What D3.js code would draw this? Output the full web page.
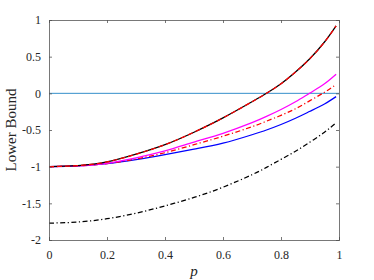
<!DOCTYPE html>
<html>
<head>
<meta charset="utf-8">
<script src="https://cdn.jsdelivr.net/npm/d3@7"></script>
<style>
  body { margin: 0; background: #fff; }
  text { font-family: "Liberation Serif", "Times New Roman", Times, serif !important; }
</style>
</head>
<body>
<div id="chart"></div>
<script>
var pVals        = [0, 0.1, 0.2, 0.3, 0.4, 0.5, 0.6, 0.7, 0.75, 0.8, 0.85, 0.9, 0.95, 0.99];
var blackSolid   = [-1, -0.985, -0.935, -0.83, -0.70, -0.53, -0.335, -0.115, 0, 0.13, 0.29, 0.475, 0.70, 0.92];
var magenta      = [-1, -0.99, -0.955, -0.88, -0.785, -0.665, -0.545, -0.40, -0.315, -0.22, -0.115, 0.005, 0.13, 0.26];
var redDashDot   = [-1, -0.99, -0.957, -0.895, -0.81, -0.70, -0.585, -0.455, -0.38, -0.30, -0.21, -0.10, 0.015, 0.12];
var blue         = [-1, -0.99, -0.96, -0.905, -0.835, -0.76, -0.68, -0.565, -0.50, -0.425, -0.34, -0.245, -0.145, -0.045];
var blackDashDot = [-1.77, -1.755, -1.71, -1.635, -1.535, -1.42, -1.28, -1.11, -1.01, -0.90, -0.79, -0.665, -0.53, -0.40];

var xTicks = [0, 0.2, 0.4, 0.6, 0.8, 1];
var yTicks = [-2, -1.5, -1, -0.5, 0, 0.5, 1];

var serif = "Liberation Serif";
var margin = { top: 20, right: 35, bottom: 40, left: 49 };
var W = 374, H = 280;
var width = W - margin.left - margin.right;
var height = H - margin.top - margin.bottom;

var svg = d3.select("#chart")
  .append("svg")
  .attr("width", W)
  .attr("height", H)
  .append("g")
  .attr("transform", "translate(" + margin.left + "," + margin.top + ")");

var x = d3.scaleLinear().domain([0, 1]).range([0, width]);
var y = d3.scaleLinear().domain([-2, 1]).range([height, 0]);

var line = d3.line()
  .x(d => x(d[0]))
  .y(d => y(d[1]))
  .curve(d3.curveNatural);

function pts(arr) { return pVals.map((p, i) => [p, arr[i]]); }

// zero line
svg.append("line")
  .attr("x1", x(0)).attr("x2", x(1))
  .attr("y1", y(0)).attr("y2", y(0))
  .attr("stroke", "#0072BD")
  .attr("stroke-width", 0.8);

var series = [
  { data: blackDashDot, color: "#000", dash: "5,2.5,1.2,2.5" },
  { data: blue, color: "#0000ff", dash: null },
  { data: redDashDot, color: "#ff0000", dash: "5,2.5,1.2,2.5" },
  { data: magenta, color: "#ff00ff", dash: null },
  { data: blackSolid, color: "#000", dash: null },
  { data: blackSolid, color: "#ff0000", dash: "5,3" }
];

svg.selectAll("path.curve")
  .data(series)
  .enter()
  .append("path")
  .attr("class", "curve")
  .attr("d", d => line(pts(d.data)))
  .attr("fill", "none")
  .attr("stroke", d => d.color)
  .attr("stroke-width", 1.25)
  .attr("stroke-dasharray", d => d.dash);

// axes, ticks inside like matlab
var axStroke = "#555";
var fmt = d => String(d);
function styleText(g) {
  g.attr("font-family", serif).attr("font-size", 12);
  g.selectAll("text")
    .attr("fill", "#262626")
    .style("font-family", serif);
}
svg.append("g")
  .attr("transform", "translate(0," + height + ")")
  .call(d3.axisBottom(x).tickValues(xTicks).tickSize(-3).tickPadding(10).tickFormat(fmt))
  .call(styleText);
svg.append("g")
  .call(d3.axisTop(x).tickValues(xTicks).tickSize(-3).tickFormat(""));
svg.append("g")
  .call(d3.axisLeft(y).tickValues(yTicks).tickSize(-3).tickPadding(8).tickFormat(fmt))
  .call(styleText);
svg.append("g")
  .attr("transform", "translate(" + width + ",0)")
  .call(d3.axisRight(y).tickValues(yTicks).tickSize(-3).tickFormat(""));

svg.selectAll(".domain, .tick line").attr("stroke", axStroke).attr("stroke-width", 0.8);

svg.append("text")
  .attr("transform", "translate(-33.5," + (height / 2) + ") rotate(-90)")
  .attr("text-anchor", "middle")
  .style("font-family", serif)
  .attr("font-size", 15)
  .attr("fill", "#262626")
  .text("Lower Bound");

svg.append("text")
  .attr("x", x(0.5))
  .attr("y", height + 36)
  .attr("text-anchor", "middle")
  .style("font-family", serif)
  .attr("font-size", 15)
  .attr("font-style", "italic")
  .attr("fill", "#262626")
  .text("p");
</script>
</body>
</html>
